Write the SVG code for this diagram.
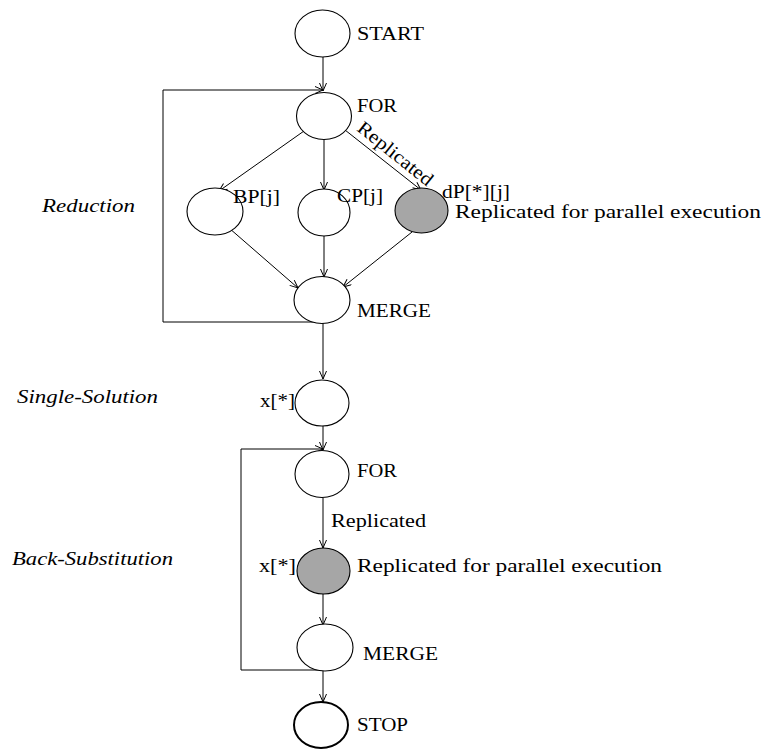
<svg xmlns="http://www.w3.org/2000/svg" width="768" height="751" viewBox="0 0 768 751">
<style>
.n{fill:#fff;stroke:#000;stroke-width:1.1}
.g{fill:#a6a6a6;stroke:#000;stroke-width:1.1}
.c{fill:none;stroke:#000;stroke-width:1}
.t{font-family:"Liberation Serif","Times New Roman",serif;font-size:19px;fill:#000}
.i{font-family:"Liberation Serif","Times New Roman",serif;font-size:18px;font-style:italic;fill:#000}
</style>
<defs>
<marker id="a" markerUnits="userSpaceOnUse" markerWidth="12" markerHeight="10" refX="9" refY="4" orient="auto">
<path d="M1,0.5 L9,4 L1,7.5" fill="none" stroke="#000" stroke-width="1"/>
</marker>
</defs>
<rect width="768" height="751" fill="#fff"/>
<g id="connectors">
<path class="c" d="M323,57 V91" marker-end="url(#a)"/>
<path class="c" d="M323,322 H163 V90 H323" marker-end="url(#a)"/>
<path class="c" d="M304,131 L219,191" marker-end="url(#a)"/>
<path class="c" d="M324,139 V190" marker-end="url(#a)"/>
<path class="c" d="M345,130 L421,190" marker-end="url(#a)"/>
<path class="c" d="M229,228 L298,288" marker-end="url(#a)"/>
<path class="c" d="M324,236 V277" marker-end="url(#a)"/>
<path class="c" d="M412,232 L343,287" marker-end="url(#a)"/>
<path class="c" d="M323,323 V379" marker-end="url(#a)"/>
<path class="c" d="M323,426 V450" marker-end="url(#a)"/>
<path class="c" d="M323,670 H241 V449 H323" marker-end="url(#a)"/>
<path class="c" d="M323,498 V548" marker-end="url(#a)"/>
<path class="c" d="M323,594 V625" marker-end="url(#a)"/>
<path class="c" d="M323,671 V702" marker-end="url(#a)"/>
<text class="t" transform="translate(356,130) rotate(38.7)" textLength="91" lengthAdjust="spacingAndGlyphs">Replicated</text>
<text class="t" x="331" y="527" textLength="95" lengthAdjust="spacingAndGlyphs">Replicated</text>
</g>
<g id="start">
<ellipse class="n" cx="322.5" cy="33.5" rx="27.5" ry="23.5"/>
<text class="t" x="357" y="40" textLength="67" lengthAdjust="spacingAndGlyphs">START</text>
</g>
<g id="for1">
<ellipse class="n" cx="324" cy="116" rx="27.5" ry="23.5"/>
<text class="t" x="357" y="112" textLength="40" lengthAdjust="spacingAndGlyphs">FOR</text>
</g>
<g id="bp">
<ellipse class="n" cx="215" cy="211.5" rx="28" ry="23.5"/>
<text class="t" x="233" y="203" textLength="47" lengthAdjust="spacingAndGlyphs">BP[j]</text>
</g>
<g id="cp">
<ellipse class="n" cx="324" cy="212.5" rx="26" ry="23.5"/>
<text class="t" x="337" y="202" textLength="46" lengthAdjust="spacingAndGlyphs">CP[j]</text>
</g>
<g id="dp">
<ellipse class="g" cx="421.5" cy="210.5" rx="26.5" ry="22.5"/>
<text class="t" x="442" y="198" textLength="68" lengthAdjust="spacingAndGlyphs">dP[*][j]</text>
<text class="t" x="455" y="218" textLength="306" lengthAdjust="spacingAndGlyphs">Replicated  for parallel execution</text>
</g>
<g id="merge1">
<ellipse class="n" cx="322" cy="300" rx="28" ry="23.5"/>
<text class="t" x="357" y="317" textLength="74" lengthAdjust="spacingAndGlyphs">MERGE</text>
</g>
<g id="xsol">
<ellipse class="n" cx="322" cy="403" rx="27" ry="23"/>
<text class="t" x="260" y="407" textLength="35" lengthAdjust="spacingAndGlyphs">x[*]</text>
</g>
<g id="for2">
<ellipse class="n" cx="322" cy="474" rx="27" ry="23.5"/>
<text class="t" x="357" y="477" textLength="40" lengthAdjust="spacingAndGlyphs">FOR</text>
</g>
<g id="xrep">
<ellipse class="g" cx="323.5" cy="571" rx="26.5" ry="23"/>
<text class="t" x="259" y="572" textLength="37" lengthAdjust="spacingAndGlyphs">x[*]</text>
<text class="t" x="357" y="572" textLength="305" lengthAdjust="spacingAndGlyphs">Replicated  for parallel execution</text>
</g>
<g id="merge2">
<ellipse class="n" cx="325" cy="647.5" rx="28" ry="23.5"/>
<text class="t" x="363" y="660" textLength="75" lengthAdjust="spacingAndGlyphs">MERGE</text>
</g>
<g id="stop">
<ellipse class="n" cx="321" cy="725" rx="27" ry="23" style="stroke-width:2"/>
<text class="t" x="357" y="731" textLength="51" lengthAdjust="spacingAndGlyphs">STOP</text>
</g>
<g id="labels">
<text class="i" x="42" y="212" textLength="93" lengthAdjust="spacingAndGlyphs">Reduction</text>
<text class="i" x="17" y="403" textLength="141" lengthAdjust="spacingAndGlyphs">Single-Solution</text>
<text class="i" x="12" y="565" textLength="161" lengthAdjust="spacingAndGlyphs">Back-Substitution</text>
</g>
</svg>
